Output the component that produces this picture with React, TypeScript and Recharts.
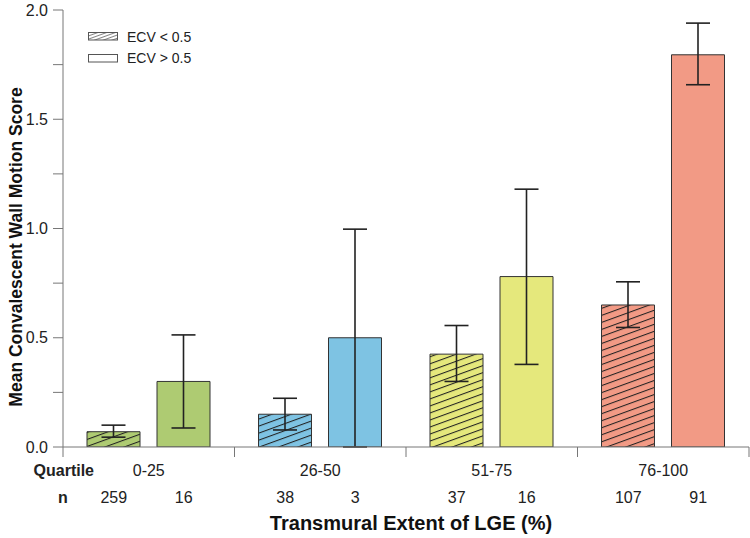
import React from 'react';
import { BarChart, Bar, XAxis, YAxis, ErrorBar, Cell } from 'recharts';

const categories = ['0-25', '26-50', '51-75', '76-100'];
const colors = ['#AECB72', '#7EC3E3', '#E5E87C', '#F29A85'];
const meanLow = [0.07, 0.15, 0.425, 0.65];
const lowCiLower = [0.045, 0.078, 0.3, 0.547];
const lowCiUpper = [0.1, 0.223, 0.556, 0.756];
const meanHigh = [0.3, 0.5, 0.78, 1.795];
const highCiLower = [0.087, 0.0, 0.378, 1.658];
const highCiUpper = [0.513, 0.997, 1.18, 1.94];
const nLow = [259, 38, 37, 107];
const nHigh = [16, 3, 16, 91];
const yTicks = [0, 0.25, 0.5, 0.75, 1, 1.25, 1.5, 1.75, 2];
const legendLabels = ['ECV < 0.5', 'ECV > 0.5'];

const data = categories.map((c, i) => ({
  cat: c,
  lo: meanLow[i],
  hi: meanHigh[i],
  loErr: [meanLow[i] - lowCiLower[i], lowCiUpper[i] - meanLow[i]],
  hiErr: [meanHigh[i] - highCiLower[i], highCiUpper[i] - meanHigh[i]],
}));

const FONT = 'Liberation Sans, Arial, Helvetica, sans-serif';
const AXIS = '#777';
const TXT = '#222';

const CatTick = (props: any) => {
  const { x, y, payload, index } = props;
  const plotW = typeof props.width === 'number' && props.width > 100 ? props.width : 686;
  const half = plotW / categories.length / 2;
  const off = 35;
  return (
    <g fontFamily={FONT}>
      <line x1={x - half} y1={y - 8} x2={x - half} y2={y + 2} stroke={AXIS} strokeWidth={1} />
      {index === categories.length - 1 && (
        <line x1={x + half} y1={y - 8} x2={x + half} y2={y + 2} stroke={AXIS} strokeWidth={1} />
      )}
      {index === 0 && (
        <>
          <text x={x - half + 31} y={y + 21} textAnchor="end" fontSize={16} fontWeight="bold" fill={TXT}>Quartile</text>
          <text x={x - half} y={y + 48} textAnchor="middle" fontSize={16} fontWeight="bold" fill={TXT}>n</text>
        </>
      )}
      <text x={x} y={y + 21} textAnchor="middle" fontSize={16} fill={TXT}>{payload.value}</text>
      <text x={x - off} y={y + 48} textAnchor="middle" fontSize={16} fill={TXT}>{nLow[index]}</text>
      <text x={x + off} y={y + 48} textAnchor="middle" fontSize={16} fill={TXT}>{nHigh[index]}</text>
    </g>
  );
};

const Hatch = ({ id, color, line }: { id: string; color: string; line: string }) => (
  <pattern id={id} patternUnits="userSpaceOnUse" width={10} height={6.6} patternTransform="rotate(-20)">
    <rect x={0} y={0} width={10} height={6.6} fill={color} />
    <line x1={0} y1={0.5} x2={10} y2={0.5} stroke={line} strokeWidth={1.1} />
  </pattern>
);

export default function App() {
  return (
    <div style={{ position: 'absolute', left: 0, top: 0, width: 750, height: 538, background: '#fff' }}>
      <svg width={0} height={0} style={{ position: 'absolute' }}>
        <defs>
          {colors.map((c, i) => (
            <Hatch key={i} id={`hatch-${i}`} color={c} line="#222" />
          ))}
          <pattern id="hatch-legend" patternUnits="userSpaceOnUse" width={6} height={3} patternTransform="rotate(-20)">
            <rect x={0} y={0} width={6} height={3} fill="#fff" />
            <line x1={0} y1={0.5} x2={6} y2={0.5} stroke="#666" strokeWidth={0.8} />
          </pattern>
        </defs>
      </svg>
      <BarChart
        width={750}
        height={538}
        data={data}
        margin={{ top: 10, right: 1, left: 0, bottom: 0 }}
        barSize={53}
        barGap={17}
      >
        <XAxis
          dataKey="cat"
          height={91}
          axisLine={{ stroke: AXIS, strokeWidth: 1 }}
          tickLine={false}
          tick={<CatTick />}
          interval={0}
          label={{
            value: 'Transmural Extent of LGE (%)',
            content: () => (
              <text x={411} y={530} textAnchor="middle" fontSize={20} fontWeight="bold" fontFamily={FONT} fill="#111">
                Transmural Extent of LGE (%)
              </text>
            ),
          }}
        />
        <YAxis
          width={63}
          domain={[0, 2]}
          ticks={yTicks}
          interval={0}
          allowDataOverflow
          axisLine={{ stroke: AXIS, strokeWidth: 1 }}
          tickLine={{ stroke: AXIS, strokeWidth: 1 }}
          tickSize={10}
          tickMargin={5}
          tick={{ fontSize: 16, fill: TXT, fontFamily: FONT }}
          tickFormatter={(v: number) => (Math.abs(v * 2 - Math.round(v * 2)) < 1e-6 ? v.toFixed(1) : '')}
          label={{
            value: 'Mean Convalescent Wall Motion Score',
            content: () => (
              <text
                x={16}
                y={247}
                transform="rotate(-90, 16, 247)"
                textAnchor="middle"
                dominantBaseline="central"
                fontSize={17.5}
                fontWeight="bold"
                fontFamily={FONT}
                fill="#111"
              >
                Mean Convalescent Wall Motion Score
              </text>
            ),
          }}
        />
        <Bar dataKey="lo" isAnimationActive={false} stroke="#333" strokeWidth={1}>
          {data.map((_, i) => (
            <Cell key={i} fill={`url(#hatch-${i})`} />
          ))}
          <ErrorBar dataKey="loErr" width={12} stroke="#222" strokeWidth={1.6} direction="y" />
        </Bar>
        <Bar dataKey="hi" isAnimationActive={false} stroke="#333" strokeWidth={1}>
          {data.map((_, i) => (
            <Cell key={i} fill={colors[i]} />
          ))}
          <ErrorBar dataKey="hiErr" width={12} stroke="#222" strokeWidth={1.6} direction="y" />
        </Bar>
      </BarChart>
      <svg width={170} height={50} style={{ position: 'absolute', left: 88, top: 26 }}>
        <rect x={0.5} y={6.5} width={29} height={7.5} fill="url(#hatch-legend)" stroke="#555" strokeWidth={1} />
        <text x={39} y={16} fontSize={14} fontFamily={FONT} fill={TXT}>{legendLabels[0]}</text>
        <rect x={0.5} y={28.5} width={29} height={7.5} fill="#fff" stroke="#555" strokeWidth={1} />
        <text x={39} y={37} fontSize={14} fontFamily={FONT} fill={TXT}>{legendLabels[1]}</text>
      </svg>
    </div>
  );
}
